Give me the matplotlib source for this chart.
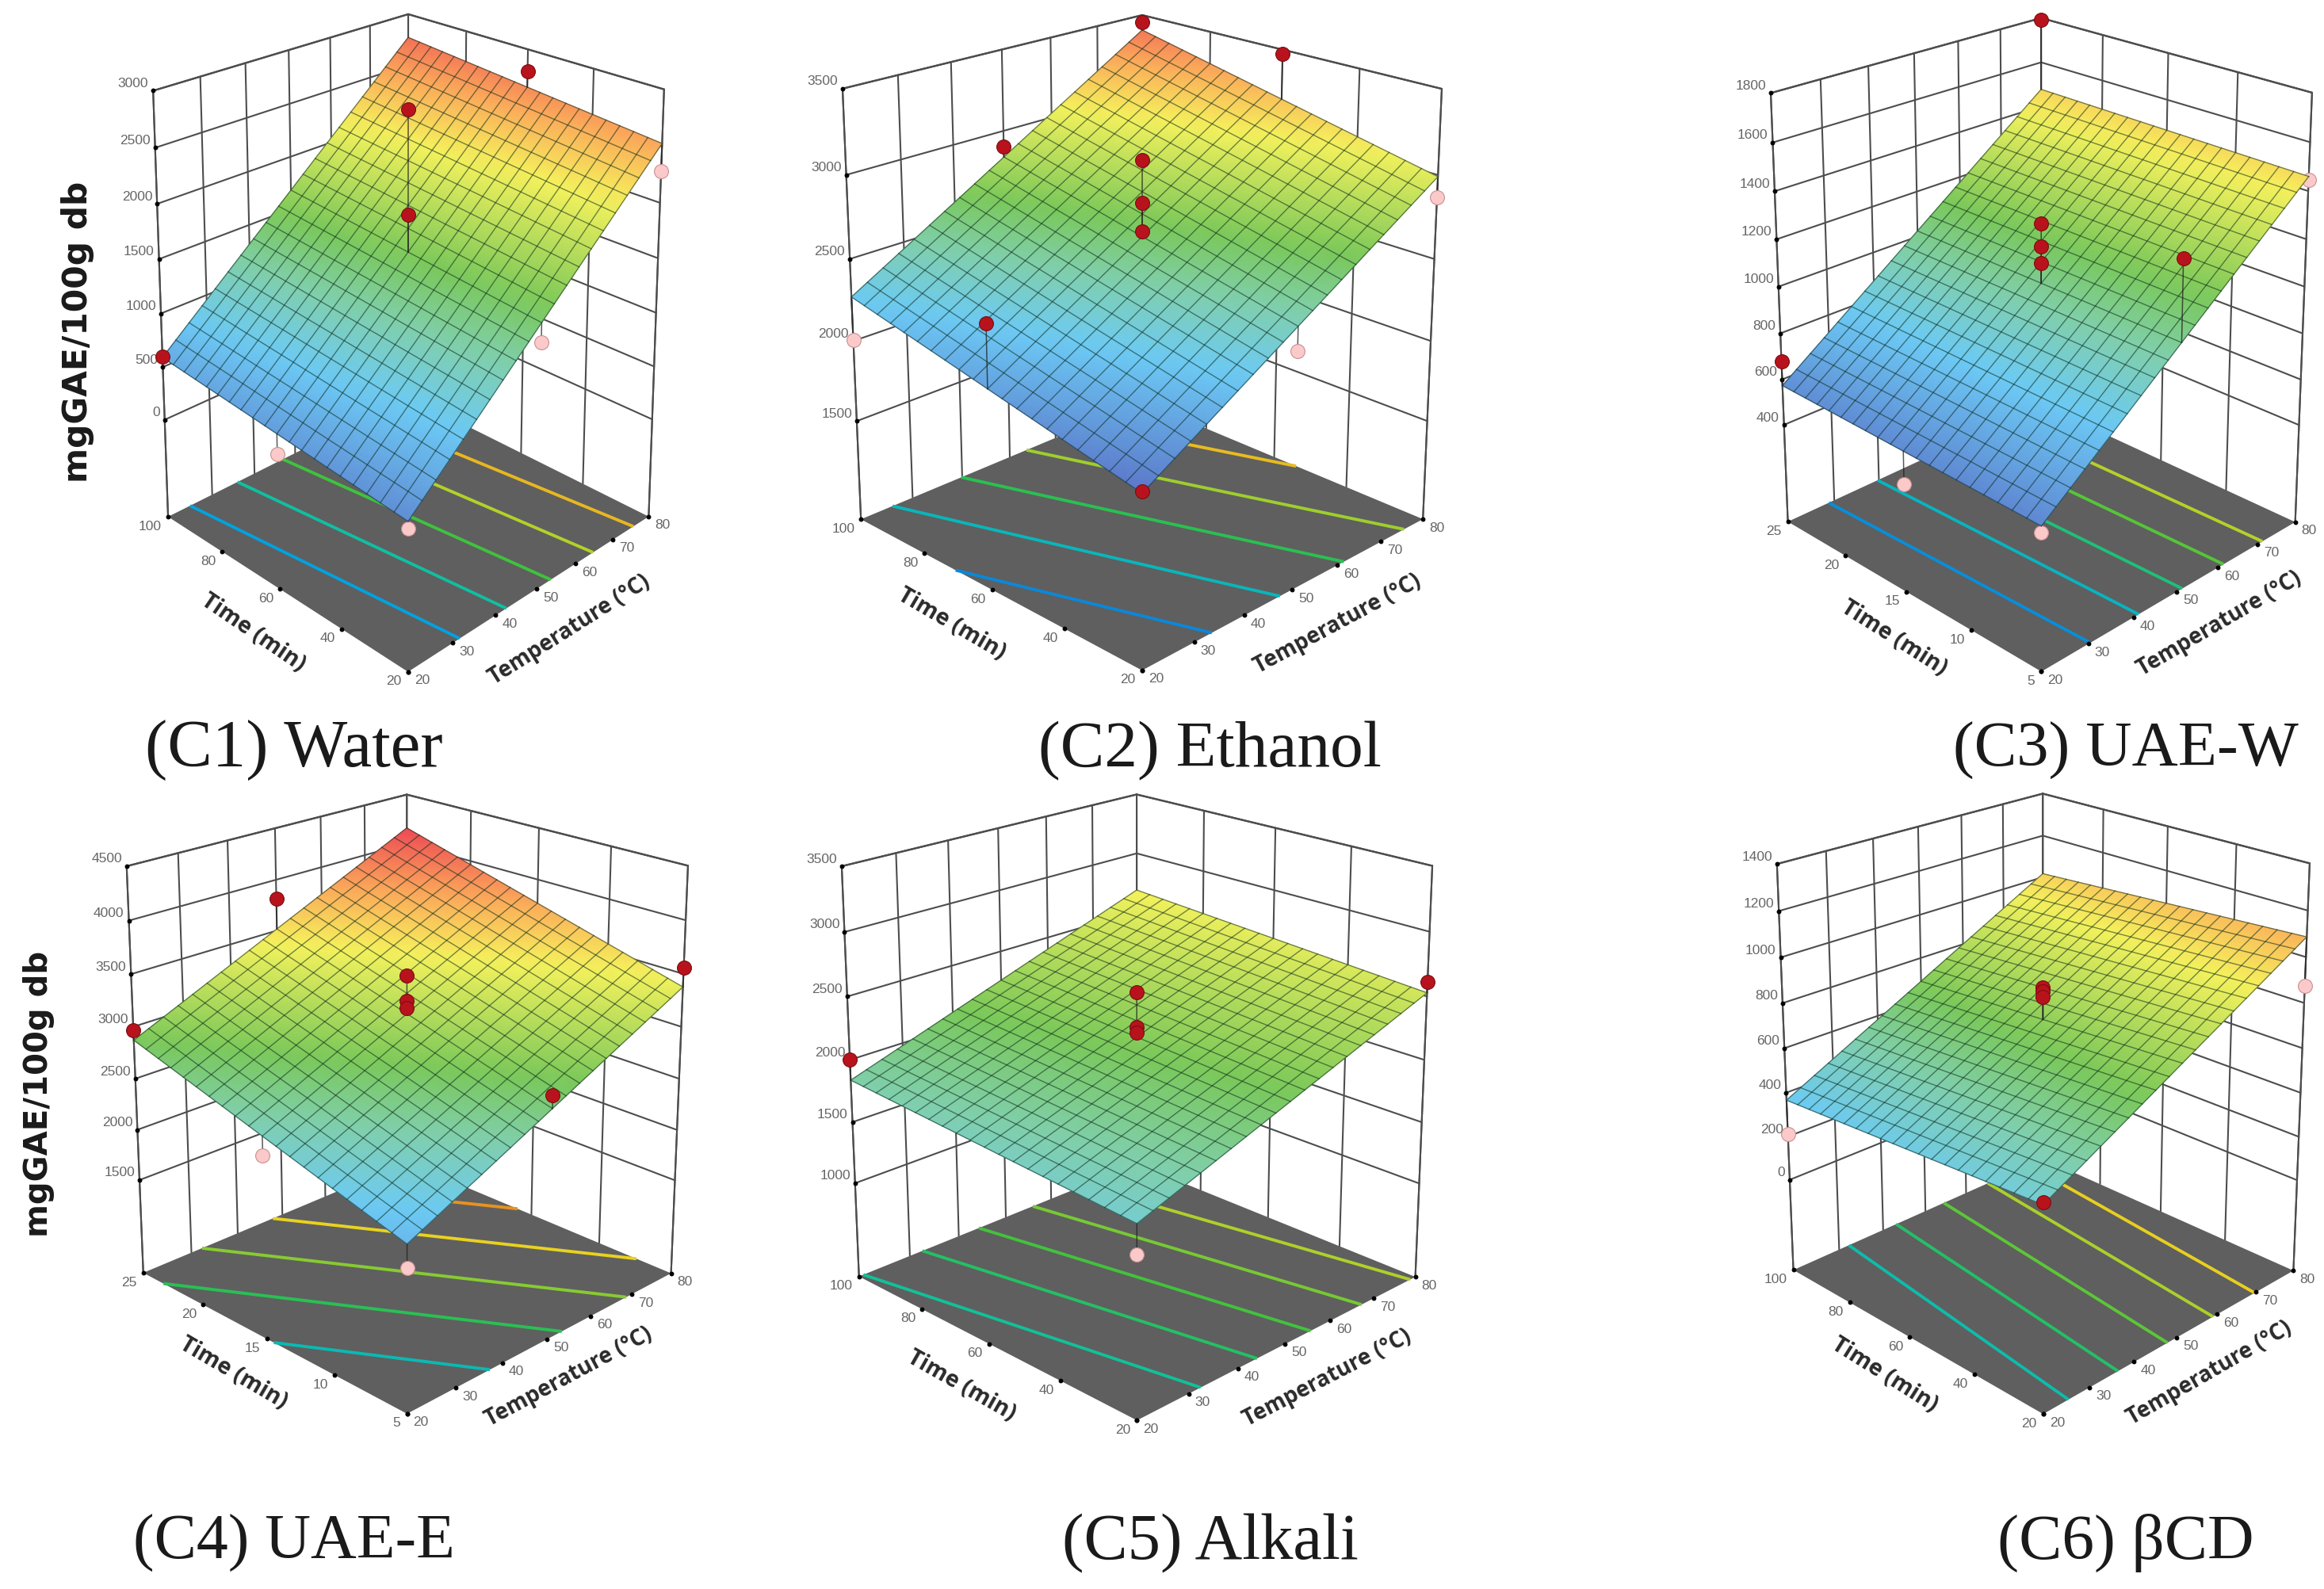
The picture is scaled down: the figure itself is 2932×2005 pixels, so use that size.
import numpy as np
import matplotlib
matplotlib.use("Agg")
import matplotlib.pyplot as plt
from matplotlib.colors import LinearSegmentedColormap

# --------------------------
# Values per panel
# corners: surface height at (Tmin,tmin), (Tmax,tmin), (Tmin,tmax), (Tmax,tmax)
# --------------------------
TEMP_TICKS = [20, 30, 40, 50, 60, 70, 80]
TIME_LONG = [20, 40, 60, 80, 100]
TIME_SHORT = [5, 10, 15, 20, 25]

C1_CORNERS = [350, 2527, 590, 2773]
C1_ZTICKS = [0, 500, 1000, 1500, 2000, 2500, 3000]
C1_LEVELS = [770, 1170, 1570, 1970, 2370]
C1_TEMP = [20, 20, 20, 50, 80, 80, 50, 50]
C1_TIME = [100, 20, 60, 20, 20, 60, 60, 60]
C1_Z = [600, 290, 291, 1266, 2280, 2800, 2831, 1900]

C2_CORNERS = [1875, 2990, 2270, 3404]
C2_ZTICKS = [1500, 2000, 2500, 3000, 3500]
C2_LEVELS = [2125, 2385, 2645, 2905, 3165]
C2_TEMP = [20, 50, 50, 50, 20, 80, 80, 50, 20, 80, 50]
C2_TIME = [20, 60, 60, 60, 100, 20, 100, 100, 60, 60, 20]
C2_Z = [1885, 3087, 2837, 2665, 2007, 2870, 3454, 2902, 2447, 3475, 2290]

C3_CORNERS = [548, 1460, 573, 1477]
C3_ZTICKS = [400, 600, 800, 1000, 1200, 1400, 1600, 1800]
C3_LEVELS = [706, 870, 1025, 1178, 1328]
C3_TEMP = [20, 20, 20, 50, 50, 50, 50, 80, 80]
C3_TIME = [25, 15, 5, 15, 15, 15, 5, 5, 25]
C3_Z = [680, 423, 521, 1267, 1171, 1101, 1336, 1445, 1793]

C4_CORNERS = [2090, 3377, 2872, 4160]
C4_ZTICKS = [1500, 2000, 2500, 3000, 3500, 4000, 4500]
C4_LEVELS = [2460, 2805, 3135, 3470, 3810]
C4_TEMP = [20, 50, 20, 20, 50, 50, 50, 50, 80]
C4_TIME = [25, 25, 15, 5, 15, 15, 15, 5, 5]
C4_Z = [2970, 3812, 2302, 1876, 3483, 3248, 3176, 2852, 3555]

C5_CORNERS = [1673, 2528, 1838, 2685]
C5_ZTICKS = [1000, 1500, 2000, 2500, 3000, 3500]
C5_LEVELS = [1850, 2015, 2180, 2345, 2510]
C5_TEMP = [20, 20, 50, 50, 50, 80]
C5_TIME = [100, 20, 60, 60, 60, 20]
C5_Z = [2000, 1450, 2530, 2257, 2215, 2612]

C6_CORNERS = [440, 1087, 366, 1017]
C6_ZTICKS = [0, 200, 400, 600, 800, 1000, 1200, 1400]
C6_LEVELS = [498, 616, 740, 860, 975]
C6_TEMP = [20, 20, 50, 50, 50, 80]
C6_TIME = [100, 20, 60, 60, 60, 20]
C6_Z = [210, 450, 867, 852, 828, 873]

TITLES = ["(C1) Water", "(C2) Ethanol", "(C3) UAE-W", "(C4) UAE-E", "(C5) Alkali", "(C6) \u03b2CD"]
Y_TITLE = "mgGAE/100g db"

# --------------------------
# Page layout, in pixels: box corners F, L, R, B on the floor, then
# top-left, top-back, top-right, plus axis title spots
# --------------------------
LAYOUT = [
    dict(box=[(515, 847), (212, 655), (818, 655), (515, 499), (193, 115), (515, 20), (838, 113)],
         zfloor=-940, zrange=(100, 2950), time_at=(319, 799), temp_at=(718, 795),
         title_at=(371, 967), title_size=61),
    dict(box=[(1441, 847), (1086, 656), (1795, 656), (1441, 508), (1063, 113), (1441, 20), (1819, 113)],
         zfloor=870, zrange=(1830, 3530), time_at=(1201, 787), temp_at=(1688, 787),
         title_at=(1526, 967), title_size=60),
    dict(box=[(2575, 848), (2256, 660), (2896, 660), (2575, 511), (2234, 118), (2575, 24), (2917, 118)],
         zfloor=-36, zrange=(452, 1780), time_at=(2389, 805), temp_at=(2800, 787),
         title_at=(2682, 967), title_size=58),
    dict(box=[(513, 1786), (181, 1606), (847, 1606), (513, 1469), (160, 1094), (513, 1003), (868, 1094)],
         zfloor=557, zrange=(1573, 4160), time_at=(294, 1733), temp_at=(718, 1737),
         title_at=(371, 1967), title_size=57.5),
    dict(box=[(1434, 1794), (1084, 1611), (1786, 1611), (1434, 1471), (1062, 1094), (1434, 1003), (1807, 1094)],
         zfloor=219, zrange=(863, 3393), time_at=(1213, 1749), temp_at=(1675, 1739),
         title_at=(1527, 1967), title_size=59.5),
    dict(box=[(2577, 1786), (2263, 1603), (2894, 1603), (2577, 1464), (2242, 1091), (2577, 1002), (2914, 1091)],
         zfloor=-426, zrange=(55, 1298), time_at=(2378, 1735), temp_at=(2788, 1733),
         title_at=(2682, 1967), title_size=58.5),
]

SERIES = [
    (C1_CORNERS, C1_ZTICKS, C1_LEVELS, C1_TEMP, C1_TIME, C1_Z, TIME_LONG),
    (C2_CORNERS, C2_ZTICKS, C2_LEVELS, C2_TEMP, C2_TIME, C2_Z, TIME_LONG),
    (C3_CORNERS, C3_ZTICKS, C3_LEVELS, C3_TEMP, C3_TIME, C3_Z, TIME_SHORT),
    (C4_CORNERS, C4_ZTICKS, C4_LEVELS, C4_TEMP, C4_TIME, C4_Z, TIME_SHORT),
    (C5_CORNERS, C5_ZTICKS, C5_LEVELS, C5_TEMP, C5_TIME, C5_Z, TIME_LONG),
    (C6_CORNERS, C6_ZTICKS, C6_LEVELS, C6_TEMP, C6_TIME, C6_Z, TIME_LONG),
]

WALL = "#4d4d4d"
TICK_TEXT = "#666666"
LABEL_FONT = "Open Sans"

response_cmap = LinearSegmentedColormap.from_list(
    "response",
    [(0.0, "#5a6ec4"), (0.25, "#6ccaf5"), (0.38, "#80cfae"), (0.5, "#7ac85a"),
     (0.72, "#f5f25c"), (0.85, "#fbaa5a"), (1.0, "#ee4a55")],
)
# floor contours use a stronger version of the same ramp
contour_cmap = LinearSegmentedColormap.from_list(
    "contour",
    [(0.0, "#2040c8"), (0.25, "#00a8e0"), (0.38, "#10c0a0"), (0.5, "#30c040"),
     (0.72, "#e8d820"), (0.85, "#e8a020"), (1.0, "#e02030")],
)


def fit_projection(box):
    # perspective camera through the seven known box corners (u, v, w) -> pixel
    frame = [(0, 0, 0), (0, 1, 0), (1, 0, 0), (1, 1, 0), (0, 1, 1), (1, 1, 1), (1, 0, 1)]
    rows, rhs = [], []
    for (u, v, w), (x, y) in zip(frame, box):
        rows.append([u, v, w, 1, 0, 0, 0, 0, -x * u, -x * v, -x * w])
        rows.append([0, 0, 0, 0, u, v, w, 1, -y * u, -y * v, -y * w])
        rhs += [x, y]
    sol = np.linalg.lstsq(np.array(rows, float), np.array(rhs, float), rcond=None)[0]
    return np.append(sol, 1.0).reshape(3, 4)


def project(cam, u, v, w):
    u, v, w = np.asarray(u, float), np.asarray(v, float), np.asarray(w, float)
    d = cam[2, 0] * u + cam[2, 1] * v + cam[2, 2] * w + cam[2, 3]
    x = (cam[0, 0] * u + cam[0, 1] * v + cam[0, 2] * w + cam[0, 3]) / d
    y = (cam[1, 0] * u + cam[1, 1] * v + cam[1, 2] * w + cam[1, 3]) / d
    return x, y


def surface_height(corners, u, v):
    f, r, l, b = corners
    return f * (1 - u) * (1 - v) + r * u * (1 - v) + l * (1 - u) * v + b * u * v


def draw_panel(ax, series, layout, title):
    corners, zticks, levels, temps, times, zs, time_ticks = series
    cam = fit_projection(layout["box"])
    zfloor, ztop = layout["zfloor"], zticks[-1]
    tmin, tmax = time_ticks[0], time_ticks[-1]

    def to_w(z):
        return (np.asarray(z, float) - zfloor) / (ztop - zfloor)

    def to_u(t):
        return (np.asarray(t, float) - 20) / 60

    def to_v(t):
        return (np.asarray(t, float) - tmin) / (tmax - tmin)

    def seg(a, b, **kw):
        x, y = project(cam, [a[0], b[0]], [a[1], b[1]], [a[2], b[2]])
        ax.plot(x, y, color=WALL, solid_capstyle="round", **kw)

    # back walls
    for z in zticks:
        w = float(to_w(z))
        seg((0, 1, w), (1, 1, w), lw=1.5, zorder=1)
        seg((1, 1, w), (1, 0, w), lw=1.5, zorder=1)
    for t in TEMP_TICKS:
        seg((to_u(t), 1, 0), (to_u(t), 1, 1), lw=1.5, zorder=1)
    for t in time_ticks:
        seg((1, to_v(t), 0), (1, to_v(t), 1), lw=1.5, zorder=1)
    seg((0, 1, 1), (1, 1, 1), lw=1.7, zorder=1)
    seg((1, 1, 1), (1, 0, 1), lw=1.7, zorder=1)

    # floor and contour lines
    fx, fy = project(cam, [0, 1, 1, 0], [0, 0, 1, 1], [0, 0, 0, 0])
    ax.fill(fx, fy, color="#5f5f5f", zorder=2, lw=0)

    zmin, zmax = layout["zrange"]
    norm = plt.Normalize(zmin, zmax)
    uu, vv = np.meshgrid(np.linspace(0, 1, 21), np.linspace(0, 1, 21))
    zz = surface_height(corners, uu, vv)
    gx, gy = project(cam, uu, vv, np.zeros_like(uu))
    ax.contour(gx, gy, zz, levels=levels, colors=[contour_cmap(norm(l)) for l in levels],
               linewidths=2.8, zorder=2.2)

    # box edges, drawn under everything that sits in front of them
    seg((0, 1, 0), (0, 1, 1), lw=1.5, zorder=2.5)
    seg((1, 0, 0), (1, 0, 1), lw=1.5, zorder=2.5)

    # tick dots stay behind the surface and the design points
    zx, zy = project(cam, np.zeros(len(zticks)), np.ones(len(zticks)), to_w(zticks))
    ax.scatter(zx, zy, s=18, c="black", zorder=2.8, lw=0)
    tx, ty = project(cam, to_u(TEMP_TICKS), np.zeros(len(TEMP_TICKS)), np.zeros(len(TEMP_TICKS)))
    ax.scatter(tx, ty, s=18, c="black", zorder=2.8, lw=0)
    sx_, sy_ = project(cam, np.zeros(len(time_ticks)), to_v(time_ticks), np.zeros(len(time_ticks)))
    ax.scatter(sx_, sy_, s=18, c="black", zorder=2.8, lw=0)

    # design points under the surface go first so it can hide them
    pu, pv, pz = to_u(temps), to_v(times), np.asarray(zs, float)
    above = pz >= surface_height(corners, pu, pv)
    for below_pass, zorder in ((True, 4), (False, 8)):
        mask = ~above if below_pass else above
        for u, v, z in zip(pu[mask], pv[mask], pz[mask]):
            h = surface_height(corners, u, v)
            lx, ly = project(cam, [u, u], [v, v], [to_w(z), to_w(h)])
            ax.plot(lx, ly, color="#222222", lw=1.1, zorder=zorder, alpha=0.75)
        if mask.any():
            mx, my = project(cam, pu[mask], pv[mask], to_w(pz[mask]))
            if below_pass:
                ax.scatter(mx, my, s=165, c="#fbc9c9", edgecolors="#c89090", linewidths=0.8, zorder=zorder + 0.5)
            else:
                ax.scatter(mx, my, s=165, c="#b8131c", edgecolors="#7a0c12", linewidths=0.8, zorder=zorder + 0.5)

    # response surface
    sx, sy = project(cam, uu, vv, to_w(zz))
    ax.pcolormesh(sx, sy, zz, shading="gouraud", cmap=response_cmap, norm=norm, zorder=5)
    for i in range(21):
        ax.plot(sx[i, :], sy[i, :], color="#0b2a1a", lw=1.0, alpha=0.55, zorder=6)
        ax.plot(sx[:, i], sy[:, i], color="#0b2a1a", lw=1.0, alpha=0.55, zorder=6)

    # tick labels
    for x, y, z in zip(zx, zy, zticks):
        ax.text(x - 6, y - 10, str(z), ha="right", va="center", fontsize=12.5,
                color=TICK_TEXT, family="Liberation Sans", zorder=3)
    for x, y, t in zip(tx, ty, TEMP_TICKS):
        ax.text(x + 8, y + 10, str(t), ha="left", va="center", fontsize=12.5,
                color=TICK_TEXT, family="Liberation Sans", zorder=9)
    for x, y, t in zip(sx_, sy_, time_ticks):
        ax.text(x - 8, y + 11, str(t), ha="right", va="center", fontsize=12.5,
                color=TICK_TEXT, family="Liberation Sans", zorder=9)

    # axis titles follow the floor edges
    box = layout["box"]
    angle_time = np.degrees(np.arctan2(box[0][1] - box[1][1], box[0][0] - box[1][0])) + 2
    angle_temp = np.degrees(np.arctan2(box[0][1] - box[2][1], box[2][0] - box[0][0]))
    ax.text(*layout["time_at"], "Time (min)", rotation=-angle_time, rotation_mode="anchor",
            ha="center", va="center", fontsize=20.5, color="#2a2a2a", family=LABEL_FONT, weight="bold", zorder=9)
    ax.text(*layout["temp_at"], "Temperature (\u00b0C)", rotation=angle_temp, rotation_mode="anchor",
            ha="center", va="center", fontsize=20, color="#2a2a2a", family=LABEL_FONT, weight="bold", zorder=9)

    ax.text(*layout["title_at"], title, ha="center", va="baseline", fontsize=layout["title_size"],
            family="Liberation Serif", color="#1a1a1a", zorder=9)


fig = plt.figure(figsize=(29.32, 20.06), dpi=100)
ax = fig.add_axes([0, 0, 1, 1])

for series, layout, title in zip(SERIES, LAYOUT, TITLES):
    draw_panel(ax, series, layout, title)

ax.text(98, 419, Y_TITLE, rotation=90, ha="center", va="center", fontsize=30.5,
        weight="bold", family="DejaVu Sans", color="#1a1a1a")
ax.text(49, 1380, Y_TITLE, rotation=90, ha="center", va="center", fontsize=29,
        weight="bold", family="DejaVu Sans", color="#1a1a1a")

ax.set_xlim(0, 2932)
ax.set_ylim(2006, 0)
ax.axis("off")

fig.savefig("out.png", dpi=100, facecolor="white")
